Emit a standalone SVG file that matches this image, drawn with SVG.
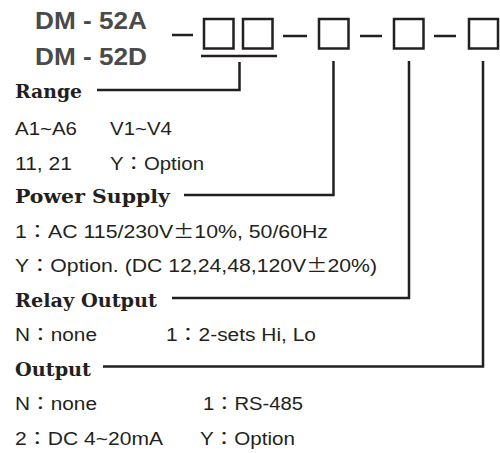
<svg xmlns="http://www.w3.org/2000/svg" width="500" height="453" viewBox="0 0 500 453">
<style>
.title{font-family:"Liberation Sans",Arial,sans-serif;font-weight:bold;font-size:23px;fill:#4a4a4a}
.head{font-family:"DejaVu Serif","Liberation Serif",serif;font-weight:bold;font-size:18px;fill:#231f20}
.body{font-family:"Liberation Sans",Arial,"Noto Sans CJK TC",sans-serif;font-size:18px;fill:#231f20}
.cjk{font-family:"Noto Sans CJK TC","Noto Sans CJK JP",sans-serif}
.box{fill:none;stroke:#231f20;stroke-width:2.5}
.ln{fill:none;stroke:#231f20;stroke-width:2.5}
</style>
<rect width="500" height="453" fill="#fff"/>
<g id="title">
<text class="title" x="35" y="29" textLength="112" lengthAdjust="spacingAndGlyphs">DM - 52A</text>
<text class="title" x="35" y="65" textLength="112" lengthAdjust="spacingAndGlyphs">DM - 52D</text>
</g>
<g id="code">
<line class="ln" x1="172" y1="35" x2="193" y2="35"/>
<rect class="box" x="204" y="19" width="29.5" height="29.5"/>
<rect class="box" x="243" y="19" width="29.5" height="29.5"/>
<line class="ln" x1="201" y1="56" x2="277" y2="56"/>
<line class="ln" x1="283" y1="36" x2="307" y2="36"/>
<rect class="box" x="319" y="19" width="29.5" height="29.5"/>
<line class="ln" x1="360" y1="36" x2="382" y2="36"/>
<rect class="box" x="394" y="19" width="29.5" height="29.5"/>
<line class="ln" x1="434" y1="36" x2="456" y2="36"/>
<rect class="box" x="469" y="19" width="29" height="29.5"/>
</g>
<g id="connectors">
<polyline class="ln" points="97,90 239.5,90 239.5,62"/>
<polyline class="ln" points="184,195 333.5,195 333.5,61"/>
<polyline class="ln" points="172,298 409,298 409,61"/>
<polyline class="ln" points="103,366.5 483,366.5 483,61"/>
</g>
<g id="range">
<text class="head" x="15" y="98" textLength="67" lengthAdjust="spacingAndGlyphs">Range</text>
<text class="body" x="15" y="135" textLength="62" lengthAdjust="spacingAndGlyphs">A1~A6</text>
<text class="body" x="110" y="135" textLength="62" lengthAdjust="spacingAndGlyphs">V1~V4</text>
<text class="body" x="15" y="170" textLength="57" lengthAdjust="spacingAndGlyphs">11, 21</text>
<text class="body" x="110" y="170" textLength="94" lengthAdjust="spacingAndGlyphs">Y<tspan class="cjk">：</tspan>Option</text>
</g>
<g id="power">
<text class="head" x="15" y="203" textLength="155" lengthAdjust="spacingAndGlyphs">Power  Supply</text>
<text class="body" x="15" y="238" textLength="313" lengthAdjust="spacingAndGlyphs">1<tspan class="cjk">：</tspan>AC 115/230V<tspan class="cjk">±</tspan>10%, 50/60Hz</text>
<text class="body" x="15" y="272" textLength="362" lengthAdjust="spacingAndGlyphs">Y<tspan class="cjk">：</tspan>Option. (DC 12,24,48,120V<tspan class="cjk">±</tspan>20%)</text>
</g>
<g id="relay">
<text class="head" x="15" y="307" textLength="142" lengthAdjust="spacingAndGlyphs">Relay Output</text>
<text class="body" x="15" y="341" textLength="82" lengthAdjust="spacingAndGlyphs">N<tspan class="cjk">：</tspan>none</text>
<text class="body" x="166" y="341" textLength="150" lengthAdjust="spacingAndGlyphs">1<tspan class="cjk">：</tspan>2-sets Hi, Lo</text>
</g>
<g id="output">
<text class="head" x="15" y="376" textLength="76" lengthAdjust="spacingAndGlyphs">Output</text>
<text class="body" x="15" y="410" textLength="82" lengthAdjust="spacingAndGlyphs">N<tspan class="cjk">：</tspan>none</text>
<text class="body" x="203" y="410" textLength="100" lengthAdjust="spacingAndGlyphs">1<tspan class="cjk">：</tspan>RS-485</text>
<text class="body" x="15" y="445" textLength="148" lengthAdjust="spacingAndGlyphs">2<tspan class="cjk">：</tspan>DC 4~20mA</text>
<text class="body" x="200" y="445" textLength="95" lengthAdjust="spacingAndGlyphs">Y<tspan class="cjk">：</tspan>Option</text>
</g>
</svg>
